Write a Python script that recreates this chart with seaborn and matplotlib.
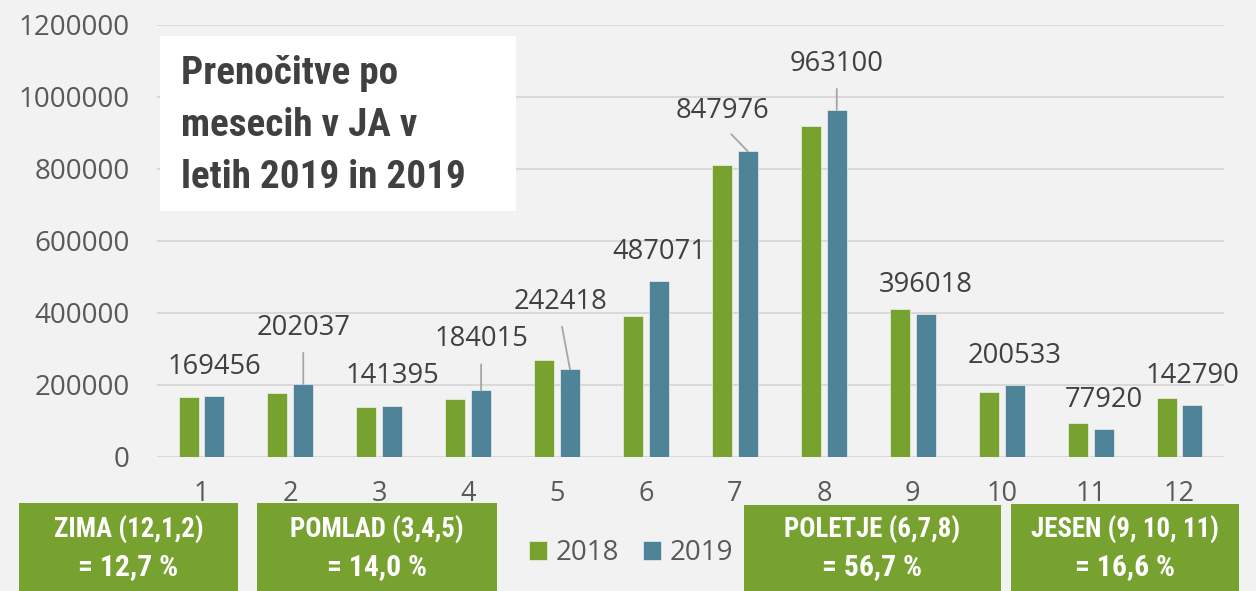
import matplotlib
matplotlib.use("Agg")
import matplotlib.pyplot as plt
from matplotlib import font_manager
from matplotlib.patches import Rectangle
import pandas as pd
import seaborn as sns

# ---- data -------------------------------------------------------------
months = [str(m) for m in range(1, 13)]
nights_2018 = [166700, 177000, 138000, 160000, 267500, 391700,
               809000, 918000, 411000, 180500, 93600, 162000]
nights_2019 = [169456, 202037, 141395, 184015, 242418, 487071,
               847976, 963100, 396018, 200533, 77920, 142790]
years = ["2018", "2019"]
y_ticks = [0, 200000, 400000, 600000, 800000, 1000000, 1200000]

title_lines = ["Prenočitve po", "mesecih v JA v", "letih 2019 in 2019"]
season_names = ["ZIMA (12,1,2)", "POMLAD (3,4,5)", "POLETJE (6,7,8)", "JESEN (9, 10, 11)"]
season_shares = ["= 12,7 %", "= 14,0 %", "= 56,7 %", "= 16,6 %"]

# ---- styling ------------------------------------------------------------
W, H = 1256, 591
BG = "#f2f2f2"
GREEN = "#78a230"
BLUE = "#4e8398"
GRID = "#d9d9d9"

sns.set_style("white", {"axes.facecolor": BG, "figure.facecolor": BG})
plt.rcParams["font.family"] = ["Open Sans", "DejaVu Sans"]

# a narrow bold face for the panel texts, if one is installed
available = {f.name for f in font_manager.fontManager.ttflist}
narrow_family, narrow_scale = "Liberation Sans", 0.84
for cand, scale in [("Liberation Sans Narrow", 1.0), ("Arial Narrow", 1.0),
                    ("Roboto Condensed", 0.93)]:
    if cand in available:
        narrow_family, narrow_scale = cand, scale
        break


def fx(x):
    return x / W


def fy(y):
    return 1 - y / H


df = pd.DataFrame({
    "month": months * 2,
    "year": [years[0]] * 12 + [years[1]] * 12,
    "nights": nights_2018 + nights_2019,
})

fig = plt.figure(figsize=(W / 100, H / 100), dpi=100, facecolor=BG)
ax = fig.add_axes([fx(157), fy(456.7), fx(1067), 432 / H])

sns.barplot(data=df, x="month", y="nights", hue="year", order=months,
            hue_order=years, palette=[GREEN, BLUE], width=0.58,
            saturation=1, ax=ax, errorbar=None,
            edgecolor=(1, 1, 1, 0.55), linewidth=0.7)

# narrower bars with a small gap between the two years
bar_w = 0.225
for cont in ax.containers:
    for bar in cont:
        c = bar.get_x() + bar.get_width() / 2
        bar.set_x(c - bar_w / 2)
        bar.set_width(bar_w)

ax.set_xlim(-0.5, 11.5)
ax.set_ylim(0, 1200000)
ax.set_yticks(y_ticks)
ax.set_yticklabels([str(v) for v in y_ticks])
ax.set_xlabel("")
ax.set_ylabel("")
ax.yaxis.grid(True, color=GRID, lw=1.4)
ax.set_axisbelow(True)
for s in ax.spines.values():
    s.set_visible(False)
ax.tick_params(axis="y", length=0, pad=19.5, labelsize=20, labelcolor="#595959")
ax.tick_params(axis="x", length=0, pad=16.5, labelsize=19.5, labelcolor="#595959")

# value labels on the 2019 bars
label_offsets = [(0, 29), (0, 56), (0, 30), (0, 51), (-10, 67.5), (0, 29),
                 (-25, 40), (0, 46), (0, 29), (0, 28.5), (0, 29), (0, 29.5)]
leaders = [False, True, False, True, True, False,
           True, True, False, False, False, False]
for bar, val, (dx, dy), lead in zip(ax.containers[1], nights_2019,
                                     label_offsets, leaders):
    cx = bar.get_x() + bar.get_width() / 2
    kw = {}
    if lead:
        kw["arrowprops"] = dict(arrowstyle="-", color="#a6a6a6", lw=1.3,
                                shrinkA=5.5, shrinkB=0, relpos=(0.5, 0.0))
    ax.annotate(str(val), xy=(cx, val), xytext=(dx, dy),
                textcoords="offset pixels", ha="center", va="center",
                fontsize=19.7, color="#404040", **kw)

# legend below the axis
handles, labels = ax.get_legend_handles_labels()
if ax.get_legend() is not None:
    ax.get_legend().remove()
fig.legend(handles, labels, loc="center", bbox_to_anchor=(fx(631), fy(553)),
           ncol=2, frameon=False, fontsize=20, handlelength=0.65,
           handleheight=0.65, handletextpad=0.32, columnspacing=0.86,
           labelcolor="#595959", borderpad=0)

# title panel
fig.patches.append(Rectangle((fx(160), fy(210.7)), fx(356), 174.7 / H,
                             transform=fig.transFigure, facecolor="white",
                             edgecolor="none", zorder=1))
for line, base in zip(title_lines, [84, 136, 188]):
    fig.text(fx(181), fy(base), line, ha="left", va="baseline",
             family=narrow_family, weight="bold",
             fontsize=30 * narrow_scale * 1.01, color="#404040", zorder=2)

# season panels
season_boxes = [(19, 238, 503), (257, 497, 503), (744, 1000.7, 505), (1010.7, 1239.3, 504)]
for (x0, x1, top), name, share in zip(season_boxes, season_names, season_shares):
    fig.patches.append(Rectangle((fx(x0), 0), fx(x1 - x0), (H - top) / H,
                                 transform=fig.transFigure, facecolor=GREEN,
                                 edgecolor="none", zorder=1))
    cx = (x0 + x1) / 2
    fig.text(fx(cx), fy(530), name, ha="center", va="center",
             family=narrow_family, weight="bold",
             fontsize=20.8 * narrow_scale, color="white", zorder=2)
    fig.text(fx(cx), fy(567), share, ha="center", va="center",
             family=narrow_family, weight="bold",
             fontsize=23 * narrow_scale, color="white", zorder=2)

fig.savefig("out.png", dpi=100, facecolor=BG)
